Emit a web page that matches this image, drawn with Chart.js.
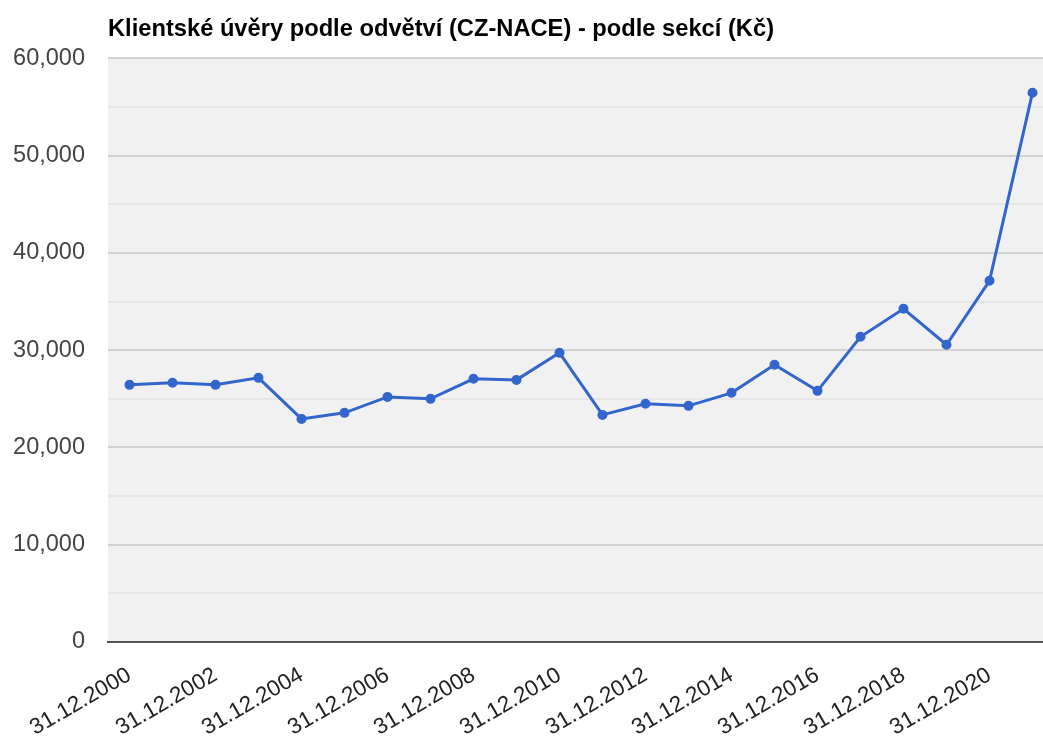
<!DOCTYPE html>
<html lang="cs">
<head>
    <meta charset="UTF-8">
    <title>Klientské úvěry podle odvětví</title>
    <script src="https://cdn.jsdelivr.net/npm/chart.js"></script>
    <style>
        html, body { margin: 0; padding: 0; background: #fff; overflow: hidden; }
        .chart-box { width: 1061px; height: 738px; }
    </style>
</head>
<body>
    <div class="chart-box">
        <canvas id="loansChart"></canvas>
    </div>

    <script>
        // data
        const dates = [
            '31.12.2000', '31.12.2001', '31.12.2002', '31.12.2003', '31.12.2004', '31.12.2005',
            '31.12.2006', '31.12.2007', '31.12.2008', '31.12.2009', '31.12.2010', '31.12.2011',
            '31.12.2012', '31.12.2013', '31.12.2014', '31.12.2015', '31.12.2016', '31.12.2017',
            '31.12.2018', '31.12.2019', '31.12.2020', '31.12.2021'
        ];
        const loans = [
            26440, 26650, 26440, 27160, 22940, 23560,
            25200, 25000, 27060, 26950, 29730, 23350,
            24490, 24280, 25620, 28500, 25820, 31380,
            34260, 30560, 37140, 56480
        ];
        const yMin = 0;
        const yMax = 60000;
        const yStep = 5000;
        const yLabelStep = 10000;

        const plotBackground = {
            id: 'plotBackground',
            beforeDraw(chart) {
                const { ctx, chartArea } = chart;
                ctx.save();
                ctx.fillStyle = '#f1f1f1';
                ctx.fillRect(chartArea.left, chartArea.top, chartArea.right - chartArea.left, chartArea.bottom - chartArea.top);
                ctx.restore();
            }
        };

        const font = 'Liberation Sans, Arial, sans-serif';

        const ctx = document.getElementById('loansChart').getContext('2d');
        new Chart(ctx, {
            type: 'line',
            data: {
                labels: dates,
                datasets: [{
                    label: 'Klientské úvěry',
                    data: loans,
                    borderColor: '#3366cc',
                    backgroundColor: '#3366cc',
                    borderWidth: 3,
                    pointRadius: 3.5,
                    pointHoverRadius: 4,
                    tension: 0,
                    fill: false
                }]
            },
            options: {
                responsive: true,
                maintainAspectRatio: false,
                animation: false,
                layout: {
                    padding: { left: 0, right: 0, top: 0, bottom: 0 }
                },
                plugins: {
                    legend: { display: false },
                    tooltip: { enabled: false },
                    title: {
                        display: true,
                        text: 'Klientské úvěry podle odvětví (CZ-NACE) - podle sekcí (Kč)',
                        align: 'start',
                        fullSize: false,
                        color: '#000',
                        font: { family: font, size: 23.7, weight: 'bold' },
                        padding: { top: 15, bottom: 15 }
                    }
                },
                scales: {
                    x: {
                        offset: true,
                        grid: { display: false },
                        border: { color: '#555', width: 2 },
                        afterFit: (scale) => {
                            scale.height = 96;
                            scale.paddingLeft = 0;
                            scale.paddingRight = 0;
                        },
                        ticks: {
                            autoSkip: false,
                            maxRotation: 30,
                            minRotation: 30,
                            padding: 12,
                            color: '#222',
                            font: { family: font, size: 22.5 },
                            callback: function (value, index) {
                                return index % 2 === 0 ? this.getLabelForValue(value) : '';
                            }
                        }
                    },
                    y: {
                        min: yMin,
                        max: yMax,
                        border: { display: false },
                        afterFit: (scale) => {
                            scale.width = 108;
                        },
                        grid: {
                            drawTicks: false,
                            lineWidth: 2,
                            color: (c) => (c.tick.value % yLabelStep === 0 ? '#d2d2d2' : '#e6e6e6')
                        },
                        ticks: {
                            stepSize: yStep,
                            padding: 23,
                            color: '#444',
                            font: { family: font, size: 23.5 },
                            callback: (value) => (value % yLabelStep === 0 ? value.toLocaleString('en-US') : '')
                        }
                    }
                }
            },
            plugins: [plotBackground]
        });
    </script>
</body>
</html>
